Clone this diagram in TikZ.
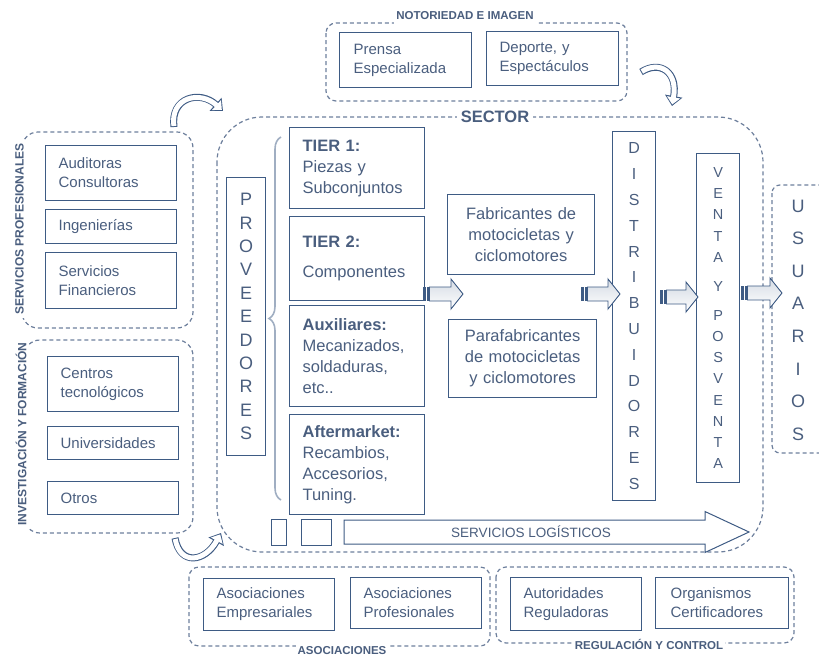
\documentclass[tikz,border=0pt]{standalone}
\usepackage{fontspec}
\setmainfont{Liberation Sans}
\usetikzlibrary{arrows.meta,decorations.pathreplacing}
\definecolor{boxc}{HTML}{3E5B84}
\definecolor{txtc}{HTML}{4A5E7E}
\definecolor{dashc}{HTML}{6D7F9C}
\definecolor{bracec}{HTML}{A0AEC2}
\newcommand\fs[2]{\fontsize{#1}{#2}\selectfont}
\newcommand\stripedarrow[3]{%
  \fill[boxc] (#1,#3-7) rectangle ++(2.5,14);
  \fill[boxc] (#1+4,#3-7) rectangle ++(2.5,14);
  \draw[boxc, line width=0.9pt, top color=boxc!22, bottom color=white]
    (#1+6.5,#3-7) -- (#2-12,#3-7) -- (#2-12,#3-15) -- (#2,#3) --
    (#2-12,#3+15) -- (#2-12,#3+7) -- (#1+6.5,#3+7) -- cycle;}
\newcommand\curvedarrow[1]{%
  \draw[boxc, line width=7pt, -{Triangle[width=17pt,length=10pt]}] #1;
  \draw[white, line width=5pt, shorten <=1pt, shorten >=1.6pt,
    -{Triangle[width=13pt,length=7.2pt]}] #1;}
\begin{document}
\begin{tikzpicture}[x=1pt,y=-1pt,
  grp/.style={draw=dashc, line width=1.2pt, dash pattern=on 4pt off 3pt, rounded corners=#1},
  grp/.default=12pt,
  gtitle/.style={fill=white, text=txtc, font=\bfseries\fs{11.5}{13}, inner sep=2pt},
  bx/.style={draw=boxc, line width=1.2pt, text=txtc, anchor=north west, inner ysep=0pt, inner xsep=13pt},
  side/.style={bx, font=\fs{15}{19}, align=left},
  big/.style={bx, font=\fs{16.5}{21}, align=left},
  cbig/.style={bx, font=\fs{16.5}{21}, align=center, inner xsep=2pt},
  vbox/.style={draw=boxc, line width=1.2pt, text=txtc, anchor=north west, align=center, inner sep=0pt},
  smallbox/.style={draw=boxc, line width=1pt, anchor=north west, inner sep=0pt}
]
\useasboundingbox (0,0) rectangle (819,656);

% ---- NOTORIEDAD E IMAGEN
\draw[grp=10pt] (326,23) rectangle (627,101);
\node[gtitle, anchor=base, text depth=8pt] (tnot) at (465,19) {NOTORIEDAD E IMAGEN};
\node[side, minimum width=132pt, minimum height=55pt, text width=104pt, inner xsep=14pt] (prensa) at (339,32) {Prensa\\Especializada};
\node[side, minimum width=132pt, minimum height=54pt, text width=106pt] (deporte) at (486,31) {Deporte, y\\Espectáculos};

% ---- SECTOR
\draw[grp=45pt] (217,117) rectangle (763,552);
\node[gtitle, font=\bfseries\fs{16.5}{18}, inner xsep=4pt] (tsec) at (495,117) {SECTOR};

% ---- SERVICIOS PROFESIONALES
\draw[grp=16pt] (22,132) rectangle (193,328);
\node[gtitle, rotate=90, font=\bfseries\fs{12}{13}, inner sep=3pt] (tserv) at (19.5,229) {SERVICIOS PROFESIONALES};
\node[side, minimum width=131pt, minimum height=55pt, text width=105pt] (aud) at (45,145) {Auditoras\\Consultoras};
\node[side, minimum width=131pt, minimum height=34pt, text width=105pt] (ing) at (45,209) {Ingenierías};
\node[side, minimum width=131pt, minimum height=56pt, text width=105pt] (fin) at (45,252) {Servicios\\Financieros};

% ---- INVESTIGACION Y FORMACION
\draw[grp=16pt] (24,340) rectangle (193,533);
\node[gtitle, rotate=90, font=\bfseries\fs{12}{13}, inner sep=3pt] (tinv) at (21,434) {INVESTIGACIÓN Y FORMACIÓN};
\node[side, minimum width=131pt, minimum height=55pt, text width=105pt] (cen) at (47,356) {Centros\\tecnológicos};
\node[side, minimum width=131pt, minimum height=33pt, text width=105pt] (uni) at (47,426) {Universidades};
\node[side, minimum width=131pt, minimum height=33pt, text width=105pt] (otr) at (47,481) {Otros};

% ---- PROVEEDORES
\node[vbox, minimum width=39pt, minimum height=278pt, font=\fs{18}{23.4}] (prov) at (226,177) {P\\R\\O\\V\\E\\E\\D\\O\\R\\E\\S};
\draw[bracec, line width=1.6pt, decorate, decoration={brace, amplitude=12pt}] (281,500) -- (281,137);

% ---- TIERS
\node[big, minimum width=135pt, minimum height=81pt, text width=109pt] (t1) at (289,127) {\textbf{TIER 1:}\\Piezas y\\Subconjuntos};
\node[big, minimum width=135pt, minimum height=84pt, text width=109pt] (t2) at (289,216) {\textbf{TIER 2:}\\[9pt]Componentes};
\node[big, minimum width=135pt, minimum height=101pt, text width=109pt] (aux) at (289,305) {\textbf{Auxiliares:}\\Mecanizados,\\soldaduras,\\etc..};
\node[big, minimum width=135pt, minimum height=100pt, text width=109pt] (aft) at (289,414) {\textbf{Aftermarket:}\\Recambios,\\Accesorios,\\Tuning.};

% ---- FABRICANTES
\node[cbig, minimum width=147pt, minimum height=80pt, text width=143pt] (fab) at (447,194) {Fabricantes de\\motocicletas y\\ciclomotores};
\node[cbig, minimum width=148pt, minimum height=78pt, text width=144pt] (para) at (448,319) {Parafabricantes\\de motocicletas\\y ciclomotores};

% ---- DISTRIBUIDORES, VENTA
\node[vbox, minimum width=43pt, minimum height=369pt, font=\fs{16}{25.8}] (dist) at (612,131) {D\\I\\S\\T\\R\\I\\B\\U\\I\\D\\O\\R\\E\\S};
\node[vbox, minimum width=43pt, minimum height=329pt, font=\fs{14.5}{21.2}] (venta) at (696,153) {V\\E\\N\\T\\A\\[7.8pt]Y\\[7.8pt]P\\O\\S\\V\\E\\N\\T\\A};

% ---- USUARIOS
\draw[grp=8pt] (772,185) rectangle (850,453);
\node[text=txtc, font=\fs{18}{32.6}, align=center] (usu) at (798,320) {U\\S\\U\\A\\R\\I\\O\\S};

% ---- striped arrows
\stripedarrow{423}{463}{294}
\stripedarrow{581}{620}{294}
\stripedarrow{660}{698}{297}
\stripedarrow{741}{782}{293}

% ---- SERVICIOS LOGISTICOS
\node[smallbox, minimum width=15pt, minimum height=26pt] (s1) at (271,519) {};
\node[smallbox, minimum width=30pt, minimum height=26pt] (s2) at (301,519) {};
\draw[boxc, line width=1pt, fill=white] (344,520) -- (705,520) -- (705,511.5) -- (749,532) -- (705,552.5) -- (705,544) -- (344,544) -- cycle;
\node[text=txtc, font=\fs{13.5}{15}] (logi) at (531,532) {SERVICIOS LOGÍSTICOS};

% ---- ASOCIACIONES
\draw[grp=10pt] (189,567) rectangle (490,646);
\node[gtitle] (tasoc) at (342,651) {ASOCIACIONES};
\node[side, minimum width=131pt, minimum height=52pt, text width=105pt] (emp) at (203,578) {Asociaciones\\Empresariales};
\node[side, minimum width=131pt, minimum height=51pt, text width=105pt] (prof) at (350,577) {Asociaciones\\Profesionales};

% ---- REGULACION Y CONTROL
\draw[grp=10pt] (496,567) rectangle (794,643);
\node[gtitle] (treg) at (649,644) {REGULACIÓN Y CONTROL};
\node[side, minimum width=131pt, minimum height=53pt, text width=105pt] (autr) at (510,577) {Autoridades\\Reguladoras};
\node[side, minimum width=133pt, minimum height=51pt, text width=103pt, inner xsep=15pt] (org) at (655,577) {Organismos\\Certificadores};

% ---- curved arrows
\curvedarrow{(174,127) .. controls (170,97) and (200,90) .. (223,111)}
\curvedarrow{(641,72) .. controls (660,60) and (678,72) .. (672,106)}
\curvedarrow{(175,538) .. controls (180,566) and (205,562) .. (221,533)}
\end{tikzpicture}
\end{document}
